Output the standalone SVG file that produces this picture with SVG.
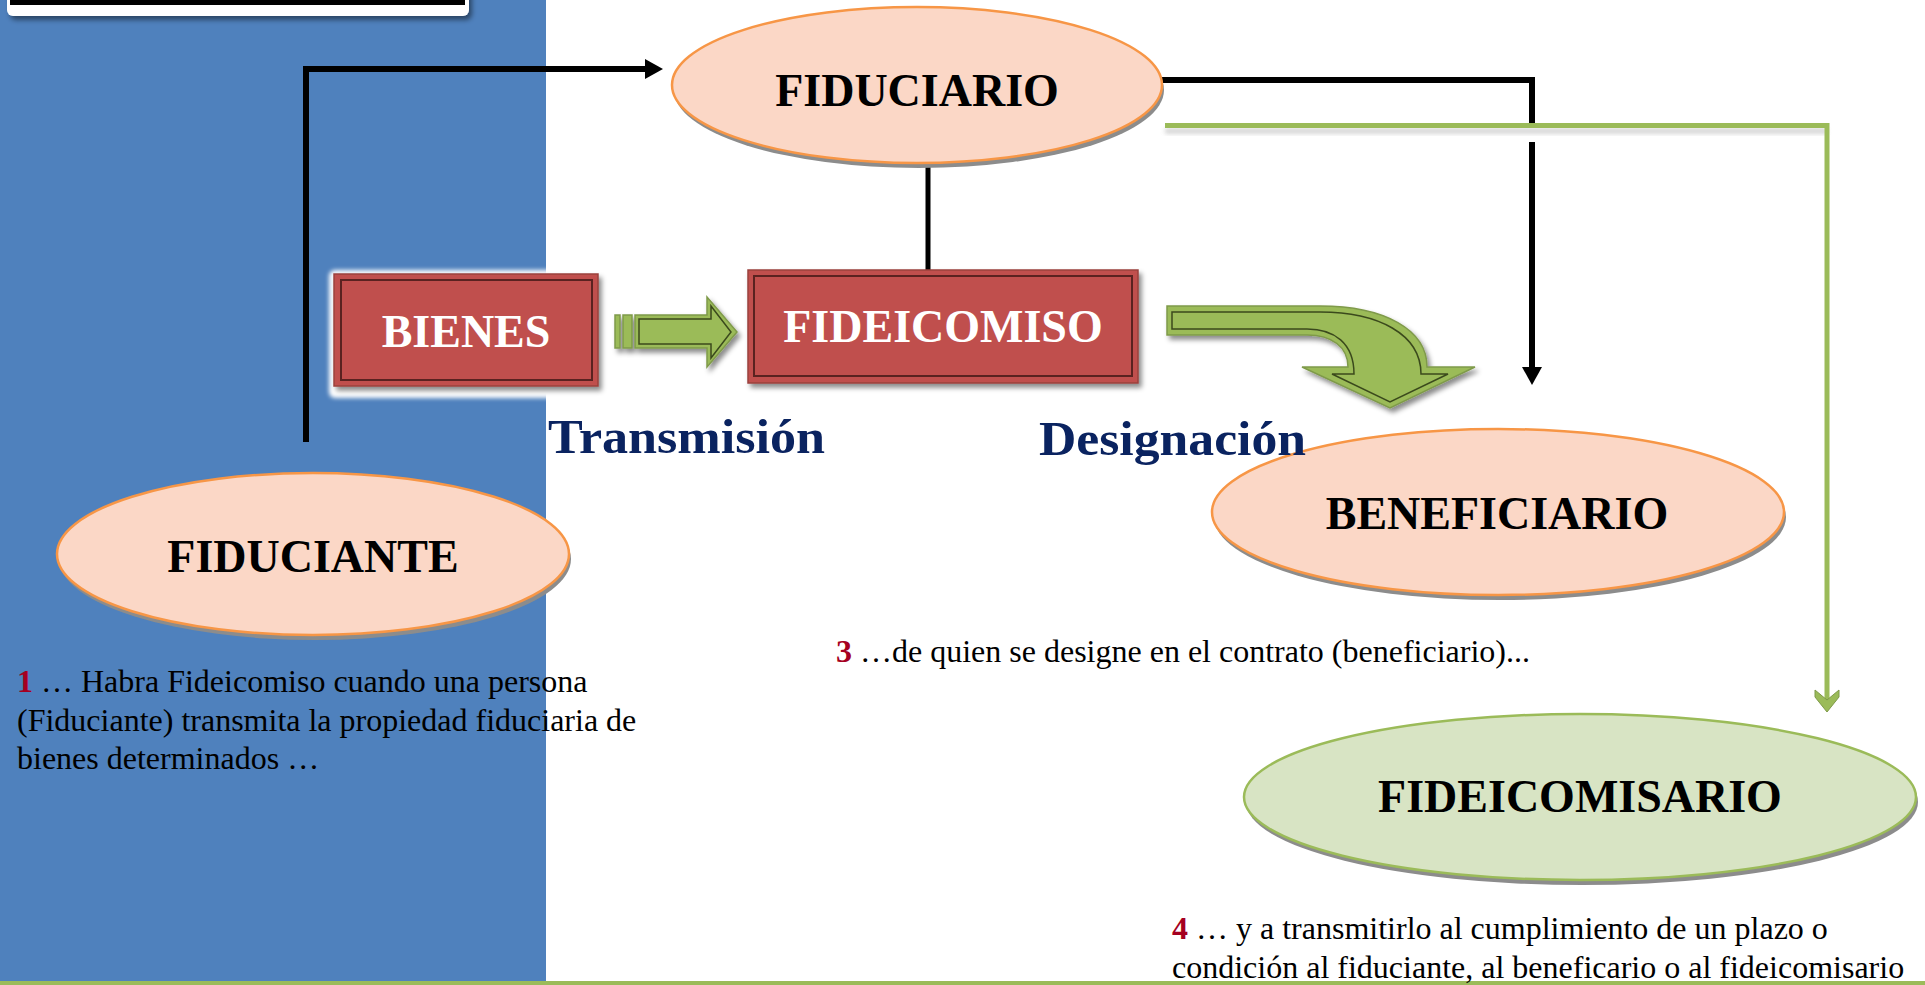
<svg xmlns="http://www.w3.org/2000/svg" width="1925" height="985" viewBox="0 0 1925 985">
<defs>
<style>
.lbl{font-family:"Liberation Serif","Times New Roman",serif;font-weight:bold;font-size:46px;text-anchor:middle}
.nav{font-family:"Liberation Serif","Times New Roman",serif;font-weight:bold;font-size:48px;fill:#0A2360}
.para{font-family:"Liberation Serif","Times New Roman",serif;font-size:32px;fill:#000}
.num{font-weight:bold;fill:#A50021}
.peach{fill:#FBD7C6;stroke:#F79646;stroke-width:2.5}
.greenE{fill:#D8E4C4;stroke:#9BBB59;stroke-width:2.5}
.esh{fill:#8c8c8c}
.box{fill:#C0504D;stroke:#9a403d;stroke-width:1.5}
.boxin{fill:none;stroke:#5a2220;stroke-width:2}
.blk{fill:none;stroke:#000;stroke-width:6;stroke-linejoin:miter}
.grn{fill:none;stroke:#9BBB59;stroke-width:5}
.garrow{fill:#9BBB59;stroke:#7f9a4a;stroke-width:1.5}
.garrowin{fill:none;stroke:#3b4a1d;stroke-width:1.5}
</style>
<filter id="ds" x="-10%" y="-20%" width="130%" height="150%">
<feDropShadow dx="3" dy="4" stdDeviation="2.5" flood-color="#000" flood-opacity="0.45"/>
</filter>
<filter id="glow" x="-10%" y="-20%" width="130%" height="150%">
<feGaussianBlur stdDeviation="2"/>
</filter>
<marker id="ah" markerUnits="userSpaceOnUse" markerWidth="18" markerHeight="20" refX="0" refY="10" orient="auto" viewBox="0 0 18 20">
<path d="M0,0 L18,10 L0,20 Z" fill="#000"/>
</marker>
</defs>

<rect x="0" y="0" width="1925" height="985" fill="#fff"/>
<rect x="0" y="0" width="546" height="981" fill="#4F81BD"/>
<rect x="0" y="981" width="1925" height="4" fill="#9BBB59"/>

<g id="topbox">
<rect x="7" y="-20" width="462" height="36" rx="6" fill="#fff" filter="url(#ds)"/>
<rect x="10" y="-20" width="455" height="25" fill="#000"/>
</g>

<g id="connectors">
<path class="blk" d="M306,442 V69 H645" marker-end="url(#ah)"/>
<line x1="928" y1="165" x2="928" y2="271" stroke="#000" stroke-width="5"/>
<path class="blk" d="M1162,80 H1532 V367" marker-end="url(#ah)"/>
<rect x="1165" y="128" width="662" height="14" fill="#fff"/>
<rect x="1165" y="128" width="662" height="6" fill="#bdbdbd" opacity="0.6" filter="url(#glow)"/>
<path class="grn" d="M1165,125.5 H1827 V700"/>
<polygon points="1815,690 1827,700 1839,690 1839,697 1827,712 1815,697" fill="#9BBB59" stroke="#7f9a4a" stroke-width="1"/>

<g id="transmision-arrow" filter="url(#ds)">
<rect x="615" y="315" width="5" height="33" class="garrow"/>
<rect x="623" y="315" width="9" height="33" class="garrow"/>
<polygon class="garrow" points="635,315 707,315 707,297 737,332 707,367 707,348 635,348"/>
<polygon class="garrowin" points="639,319 711,319 711,306 731,332 711,358 711,344 639,344"/>
</g>

<g id="designacion-arrow" filter="url(#ds)">
<path class="garrow" d="M1167,306 L1320,306 C1385,306 1427,330 1427,367 L1475,367 L1390,408 L1302,367 L1348,367 C1348,347 1332,335 1307,335 L1167,335 Z"/>
<path class="garrowin" d="M1172,312 L1320,312 C1378,312 1421,334 1421,374 L1448,374 L1390,402 L1332,374 L1354,374 C1354,343 1334,329 1307,329 L1172,329 Z"/>
</g>
</g>

<g id="fiduciario">
<ellipse class="esh" cx="919" cy="90" rx="245" ry="78"/>
<ellipse class="peach" cx="917" cy="85" rx="245" ry="78"/>
<text class="lbl" x="917" y="106" fill="#000">FIDUCIARIO</text>
</g>

<g id="bienes">
<rect x="329" y="270" width="274" height="128" rx="6" fill="#fff" filter="url(#glow)"/>
<rect class="box" x="334" y="274" width="264" height="112" filter="url(#ds)"/>
<rect class="boxin" x="341" y="280" width="251" height="100"/>
<text class="lbl" x="466" y="347" fill="#fff">BIENES</text>
</g>

<g id="fideicomiso">
<rect class="box" x="748" y="270" width="390" height="113" filter="url(#ds)"/>
<rect class="boxin" x="754" y="276" width="378" height="100"/>
<text class="lbl" x="943" y="342" fill="#fff">FIDEICOMISO</text>
</g>

<g id="fiduciante">
<ellipse class="esh" cx="315" cy="559" rx="256" ry="81"/>
<ellipse class="peach" cx="313" cy="554" rx="256" ry="81"/>
<text class="lbl" x="313" y="572" fill="#000">FIDUCIANTE</text>
</g>

<g id="beneficiario">
<ellipse class="esh" cx="1500" cy="517" rx="286" ry="83"/>
<ellipse class="peach" cx="1498" cy="512" rx="286" ry="83"/>
<text class="lbl" x="1497" y="529" fill="#000">BENEFICIARIO</text>
</g>

<g id="fideicomisario">
<ellipse class="esh" cx="1582" cy="802" rx="336" ry="83"/>
<ellipse class="greenE" cx="1580" cy="797" rx="336" ry="83"/>
<text class="lbl" x="1580" y="812" fill="#000">FIDEICOMISARIO</text>
</g>

<g id="labels">
<text class="nav" x="548" y="453" textLength="277" lengthAdjust="spacingAndGlyphs">Transmisión</text>
<text class="nav" x="1039" y="455" textLength="267" lengthAdjust="spacingAndGlyphs">Designación</text>
</g>

<g id="notes">
<text class="para" x="17" y="692"><tspan class="num">1</tspan> … Habra Fideicomiso cuando una persona</text>
<text class="para" x="17" y="731">(Fiduciante) transmita la propiedad fiduciaria de</text>
<text class="para" x="17" y="769">bienes determinados …</text>
<text class="para" x="836" y="662"><tspan class="num">3</tspan> …de quien se designe en el contrato (beneficiario)...</text>
<text class="para" x="1172" y="939"><tspan class="num">4</tspan> … y a transmitirlo al cumplimiento de un plazo o</text>
<text class="para" x="1172" y="978">condición al fiduciante, al beneficario o al fideicomisario</text>
</g>
</svg>
